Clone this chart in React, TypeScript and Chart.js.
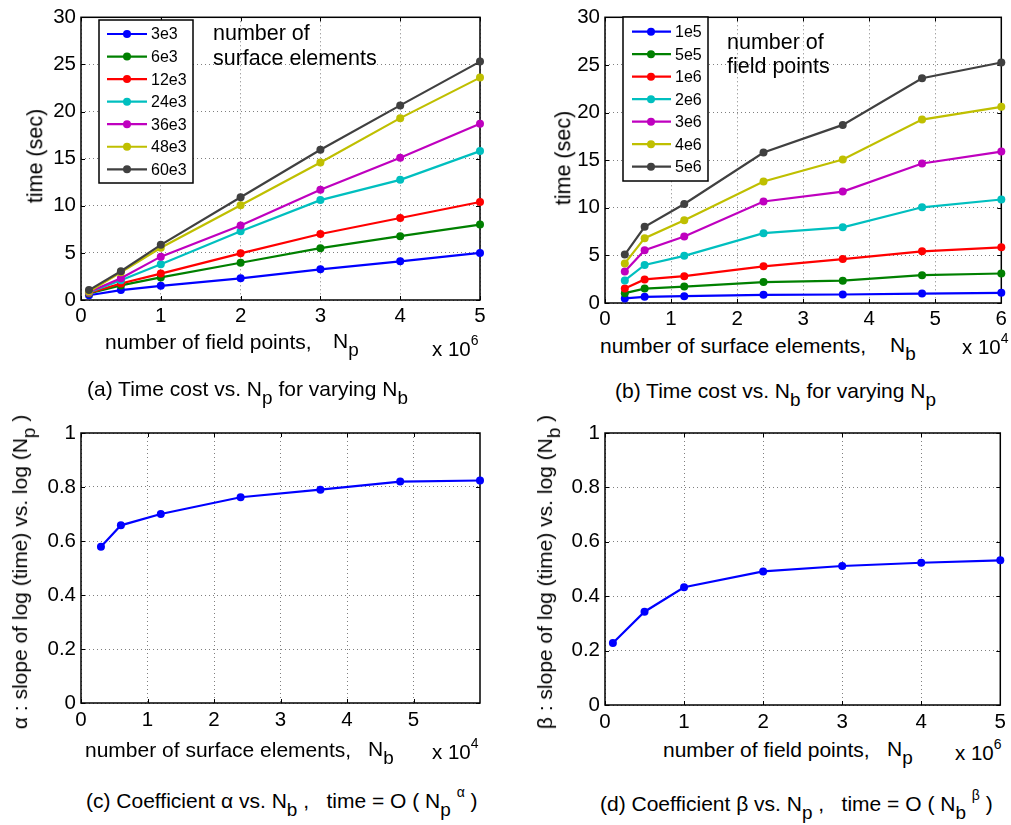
import React, { useEffect, useRef } from 'react';
import { Chart, registerables } from 'chart.js';

Chart.register(...registerables);

const FONT = "'Liberation Sans', Arial, sans-serif";

// ---------- x values ----------
const npMillions = [0.1, 0.5, 1, 2, 3, 4, 5]; // number of field points (x 10^6)
const nbTenThousands = [0.3, 0.6, 1.2, 2.4, 3.6, 4.8, 6]; // number of surface elements (x 10^4)

// ---------- panel (a): time vs Np, one line per Nb ----------
const nbLegendLabels = ['3e3', '6e3', '12e3', '24e3', '36e3', '48e3', '60e3'];
const timeNb3e3 = [0.5, 1.05, 1.5, 2.3, 3.25, 4.1, 5.0];
const timeNb6e3 = [0.7, 1.55, 2.4, 3.95, 5.5, 6.77, 8.0];
const timeNb12e3 = [0.75, 1.75, 2.8, 4.95, 7.0, 8.7, 10.4];
const timeNb24e3 = [0.8, 2.1, 3.8, 7.3, 10.6, 12.75, 15.8];
const timeNb36e3 = [0.85, 2.3, 4.6, 7.9, 11.7, 15.1, 18.7];
const timeNb48e3 = [0.9, 2.95, 5.55, 10.05, 14.6, 19.3, 23.6];
const timeNb60e3 = [1.05, 3.05, 5.85, 10.9, 15.95, 20.65, 25.3];

// ---------- panel (b): time vs Nb, one line per Np ----------
const npLegendLabels = ['1e5', '5e5', '1e6', '2e6', '3e6', '4e6', '5e6'];
const timeNp1e5 = [0.48, 0.65, 0.72, 0.86, 0.89, 0.99, 1.07];
const timeNp5e5 = [1.03, 1.51, 1.72, 2.2, 2.34, 2.92, 3.1];
const timeNp1e6 = [1.51, 2.48, 2.82, 3.85, 4.61, 5.43, 5.85];
const timeNp2e6 = [2.37, 3.99, 4.95, 7.33, 7.95, 10.05, 10.87];
const timeNp3e6 = [3.3, 5.54, 6.98, 10.66, 11.7, 14.65, 15.9];
const timeNp4e6 = [4.16, 6.81, 8.7, 12.76, 15.07, 19.26, 20.6];
const timeNp5e6 = [5.09, 8.0, 10.4, 15.8, 18.7, 23.6, 25.25];

// ---------- panel (c) and (d) ----------
const alphaVsNb = [0.579, 0.658, 0.7, 0.762, 0.79, 0.82, 0.824];
const betaVsNp = [0.228, 0.343, 0.433, 0.491, 0.511, 0.523, 0.532];

// ---------- tick lists ----------
const xTicksNp = [0, 1, 2, 3, 4, 5];
const xTicksNb = [0, 1, 2, 3, 4, 5, 6];
const xTicksNbC = [0, 1, 2, 3, 4, 5];

const lineColors = ['#0000ff', '#008000', '#ff0000', '#00bfbf', '#bf00bf', '#bfbf00', '#404040'];

type Series = { label: string; data: number[]; color: string };
type Box = { x: number; y: number; w: number; h: number };
type Area = { l: number; t: number; r: number; b: number };
type LegendSpec = {
  x: number; y: number; w: number; h: number;
  row0: number; rowGap: number;
  lineX0: number; lineX1: number; markX: number; textX: number;
};

type PanelProps = {
  box: Box;
  area: Area;
  xs: number[];
  series: Series[];
  xMax: number;
  xTicks: number[];
  yMax: number;
  yStep: number;
  tickPad: number;
  legend?: LegendSpec;
};

const fmt = (v: any) => String(Math.round(Number(v) * 100) / 100);

function Panel({ box, area, xs, series, xMax, xTicks, yMax, yStep, tickPad, legend }: PanelProps) {
  const ref = useRef<HTMLCanvasElement | null>(null);

  useEffect(() => {
    const canvas = ref.current;
    if (!canvas) return;

    const framePlugin = {
      id: 'frame',
      beforeDatasetsDraw(chart: any) {
        const { ctx, chartArea } = chart;
        const { left, top, right, bottom } = chartArea;
        const xsc = chart.scales.x;
        const ysc = chart.scales.y;
        ctx.save();
        ctx.strokeStyle = '#000';
        ctx.lineWidth = 1;
        ctx.beginPath();
        xsc.ticks.forEach((t: any) => {
          const px = Math.round(xsc.getPixelForValue(t.value)) + 0.5;
          ctx.moveTo(px, bottom);
          ctx.lineTo(px, bottom - 4);
          ctx.moveTo(px, top);
          ctx.lineTo(px, top + 4);
        });
        ysc.ticks.forEach((t: any) => {
          const py = Math.round(ysc.getPixelForValue(t.value)) + 0.5;
          ctx.moveTo(left, py);
          ctx.lineTo(left + 4, py);
          ctx.moveTo(right, py);
          ctx.lineTo(right - 4, py);
        });
        ctx.stroke();
        ctx.lineWidth = 1.5;
        ctx.strokeRect(left, top, right - left, bottom - top);
        ctx.restore();
      },
    };

    const legendPlugin = {
      id: 'boxLegend',
      afterDatasetsDraw(chart: any) {
        if (!legend) return;
        const ctx = chart.ctx;
        const ox = box.x;
        const oy = box.y;
        ctx.save();
        ctx.fillStyle = '#fff';
        ctx.fillRect(legend.x - ox, legend.y - oy, legend.w, legend.h);
        ctx.strokeStyle = '#000';
        ctx.lineWidth = 1.5;
        ctx.strokeRect(legend.x - ox, legend.y - oy, legend.w, legend.h);
        ctx.font = `16px ${FONT}`;
        ctx.textBaseline = 'middle';
        ctx.textAlign = 'left';
        series.forEach((s, i) => {
          const cy = legend.row0 + i * legend.rowGap - oy;
          ctx.strokeStyle = s.color;
          ctx.lineWidth = 2.2;
          ctx.beginPath();
          ctx.moveTo(legend.lineX0 - ox, cy);
          ctx.lineTo(legend.lineX1 - ox, cy);
          ctx.stroke();
          ctx.fillStyle = s.color;
          ctx.beginPath();
          ctx.arc(legend.markX - ox, cy, 4, 0, Math.PI * 2);
          ctx.fill();
          ctx.fillStyle = '#000';
          ctx.fillText(s.label, legend.textX - ox, cy + 1);
        });
        ctx.restore();
      },
    };

    const n = series.length;
    const gridStyle = { color: 'rgba(0,0,0,0.5)', lineWidth: 1, drawTicks: false };
    const borderStyle = { display: false, dash: [1, 3] };
    const tickFont = { family: FONT, size: 20.5 };

    const chart = new Chart(canvas, {
      type: 'line',
      data: {
        datasets: series.map((s, i) => ({
          label: s.label,
          data: xs.map((x, j) => ({ x, y: s.data[j] })),
          borderColor: s.color,
          backgroundColor: s.color,
          pointBackgroundColor: s.color,
          pointBorderColor: s.color,
          borderWidth: 2.2,
          pointRadius: 4,
          pointHoverRadius: 4,
          pointBorderWidth: 0,
          tension: 0,
          order: n - i,
          clip: false as any,
        })),
      },
      options: {
        responsive: false,
        animation: false,
        events: [],
        layout: {
          padding: {
            left: 0,
            top: area.t - box.y,
            right: box.x + box.w - area.r,
            bottom: 0,
          },
        },
        plugins: {
          legend: { display: false },
          tooltip: { enabled: false },
        },
        scales: {
          x: {
            type: 'linear',
            min: 0,
            max: xMax,
            afterBuildTicks: (axis: any) => {
              axis.ticks = xTicks.map((v) => ({ value: v }));
            },
            afterFit: (scale: any) => {
              scale.height = box.y + box.h - area.b;
            },
            grid: gridStyle,
            border: borderStyle,
            ticks: {
              color: '#000',
              font: tickFont,
              padding: tickPad,
              maxRotation: 0,
              autoSkip: false,
              callback: fmt,
            },
          },
          y: {
            type: 'linear',
            min: 0,
            max: yMax,
            afterFit: (scale: any) => {
              scale.width = area.l - box.x;
            },
            grid: gridStyle,
            border: borderStyle,
            ticks: {
              color: '#000',
              font: tickFont,
              padding: 5,
              stepSize: yStep,
              callback: fmt,
            },
          },
        },
      } as any,
      plugins: [framePlugin, legendPlugin],
    });

    return () => chart.destroy();
  }, []);

  return (
    <canvas
      ref={ref}
      width={box.w}
      height={box.h}
      style={{ position: 'absolute', left: box.x, top: box.y, width: box.w, height: box.h }}
    />
  );
}

function Txt({ x, y, size = 21, rotate = false, children }: { x: number; y: number; size?: number; rotate?: boolean; children: React.ReactNode }) {
  const style: React.CSSProperties = {
    position: 'absolute',
    left: x,
    top: y,
    fontFamily: FONT,
    fontSize: size,
    lineHeight: 1,
    whiteSpace: 'pre',
    color: '#000',
    transform: rotate ? 'translate(-50%,-50%) rotate(-90deg)' : 'translateY(-50%)',
  };
  return <div style={style}>{children}</div>;
}

function Sub({ children }: { children: React.ReactNode }) {
  return <span style={{ fontSize: '0.9em', position: 'relative', top: 8 }}>{children}</span>;
}

function Sup({ children }: { children: React.ReactNode }) {
  return <span style={{ fontSize: 14, position: 'relative', top: -11 }}>{children}</span>;
}

const seriesA: Series[] = [timeNb3e3, timeNb6e3, timeNb12e3, timeNb24e3, timeNb36e3, timeNb48e3, timeNb60e3].map(
  (d, i) => ({ label: nbLegendLabels[i], data: d, color: lineColors[i] })
);
const seriesB: Series[] = [timeNp1e5, timeNp5e5, timeNp1e6, timeNp2e6, timeNp3e6, timeNp4e6, timeNp5e6].map(
  (d, i) => ({ label: npLegendLabels[i], data: d, color: lineColors[i] })
);
const seriesC: Series[] = [{ label: 'alpha', data: alphaVsNb, color: lineColors[0] }];
const seriesD: Series[] = [{ label: 'beta', data: betaVsNp, color: lineColors[0] }];

export default function App() {
  return (
    <div style={{ position: 'absolute', left: 0, top: 0, width: 1011, height: 825, background: '#fff', overflow: 'hidden' }}>
      {/* (a) */}
      <Panel
        box={{ x: 0, y: 0, w: 500, h: 330 }}
        area={{ l: 81, t: 12, r: 480, b: 300 }}
        xs={npMillions}
        series={seriesA}
        xMax={5}
        xTicks={xTicksNp}
        yMax={30}
        yStep={5}
        tickPad={4}
        legend={{ x: 99, y: 20, w: 94, h: 163, row0: 34, rowGap: 22.55, lineX0: 107, lineX1: 147, markX: 127, textX: 151 }}
      />
      <Txt x={213} y={34} size={21.5}>number of</Txt>
      <Txt x={213} y={59} size={21.5}>surface elements</Txt>
      <Txt x={36} y={156} size={21.5} rotate>time (sec)</Txt>
      <Txt x={105} y={341}>number of field points,</Txt>
      <Txt x={333} y={341}>N<Sub>p</Sub></Txt>
      <Txt x={432} y={349} size={20.5}>x 10<Sup>6</Sup></Txt>
      <Txt x={87} y={388.5}>(a) Time cost vs. N<Sub>p</Sub> for varying N<Sub>b</Sub></Txt>

      {/* (b) */}
      <Panel
        box={{ x: 500, y: 0, w: 511, h: 333 }}
        area={{ l: 605, t: 13, r: 1003, b: 303 }}
        xs={nbTenThousands}
        series={seriesB}
        xMax={6}
        xTicks={xTicksNb}
        yMax={30}
        yStep={5}
        tickPad={4}
        legend={{ x: 623, y: 17, w: 85, h: 164, row0: 31.7, rowGap: 22.5, lineX0: 632, lineX1: 671, markX: 651, textX: 675 }}
      />
      <Txt x={727} y={42.5} size={21.5}>number of</Txt>
      <Txt x={727} y={66.5} size={21.5}>field points</Txt>
      <Txt x={563.5} y={158} size={21.5} rotate>time (sec)</Txt>
      <Txt x={600} y={345}>number of surface elements,</Txt>
      <Txt x={890} y={345}>N<Sub>b</Sub></Txt>
      <Txt x={962} y={347} size={20.5}>x 10<Sup>4</Sup></Txt>
      <Txt x={615} y={391}>(b) Time cost vs. N<Sub>b</Sub> for varying N<Sub>p</Sub></Txt>

      {/* (c) */}
      <Panel
        box={{ x: 0, y: 410, w: 500, h: 323 }}
        area={{ l: 81, t: 433, r: 480, b: 703 }}
        xs={nbTenThousands}
        series={seriesC}
        xMax={6}
        xTicks={xTicksNbC}
        yMax={1}
        yStep={0.2}
        tickPad={5}
      />
      <Txt x={20} y={572} rotate>α : slope of log (time) vs. log (N<Sub>p</Sub> )</Txt>
      <Txt x={85} y={749}>number of surface elements,</Txt>
      <Txt x={368} y={749}>N<Sub>b</Sub></Txt>
      <Txt x={432} y={752} size={20.5}>x 10<Sup>4</Sup></Txt>
      <Txt x={86} y={800.5}>(c) Coefficient α vs. N<Sub>b</Sub> ,   time = O ( N<Sub>p</Sub> <Sup>α</Sup> )</Txt>

      {/* (d) */}
      <Panel
        box={{ x: 500, y: 410, w: 511, h: 325 }}
        area={{ l: 605, t: 433, r: 1003, b: 705 }}
        xs={npMillions}
        series={seriesD}
        xMax={5}
        xTicks={xTicksNp}
        yMax={1}
        yStep={0.2}
        tickPad={5}
      />
      <Txt x={545} y={572} rotate>β : slope of log (time) vs. log (N<Sub>b</Sub> )</Txt>
      <Txt x={663} y={749}>number of field points,</Txt>
      <Txt x={887} y={749}>N<Sub>p</Sub></Txt>
      <Txt x={955} y={752.5} size={20.5}>x 10<Sup>6</Sup></Txt>
      <Txt x={600} y={804}>(d) Coefficient β vs. N<Sub>p</Sub> ,   time = O ( N<Sub>b</Sub> <Sup>β</Sup> )</Txt>
    </div>
  );
}
